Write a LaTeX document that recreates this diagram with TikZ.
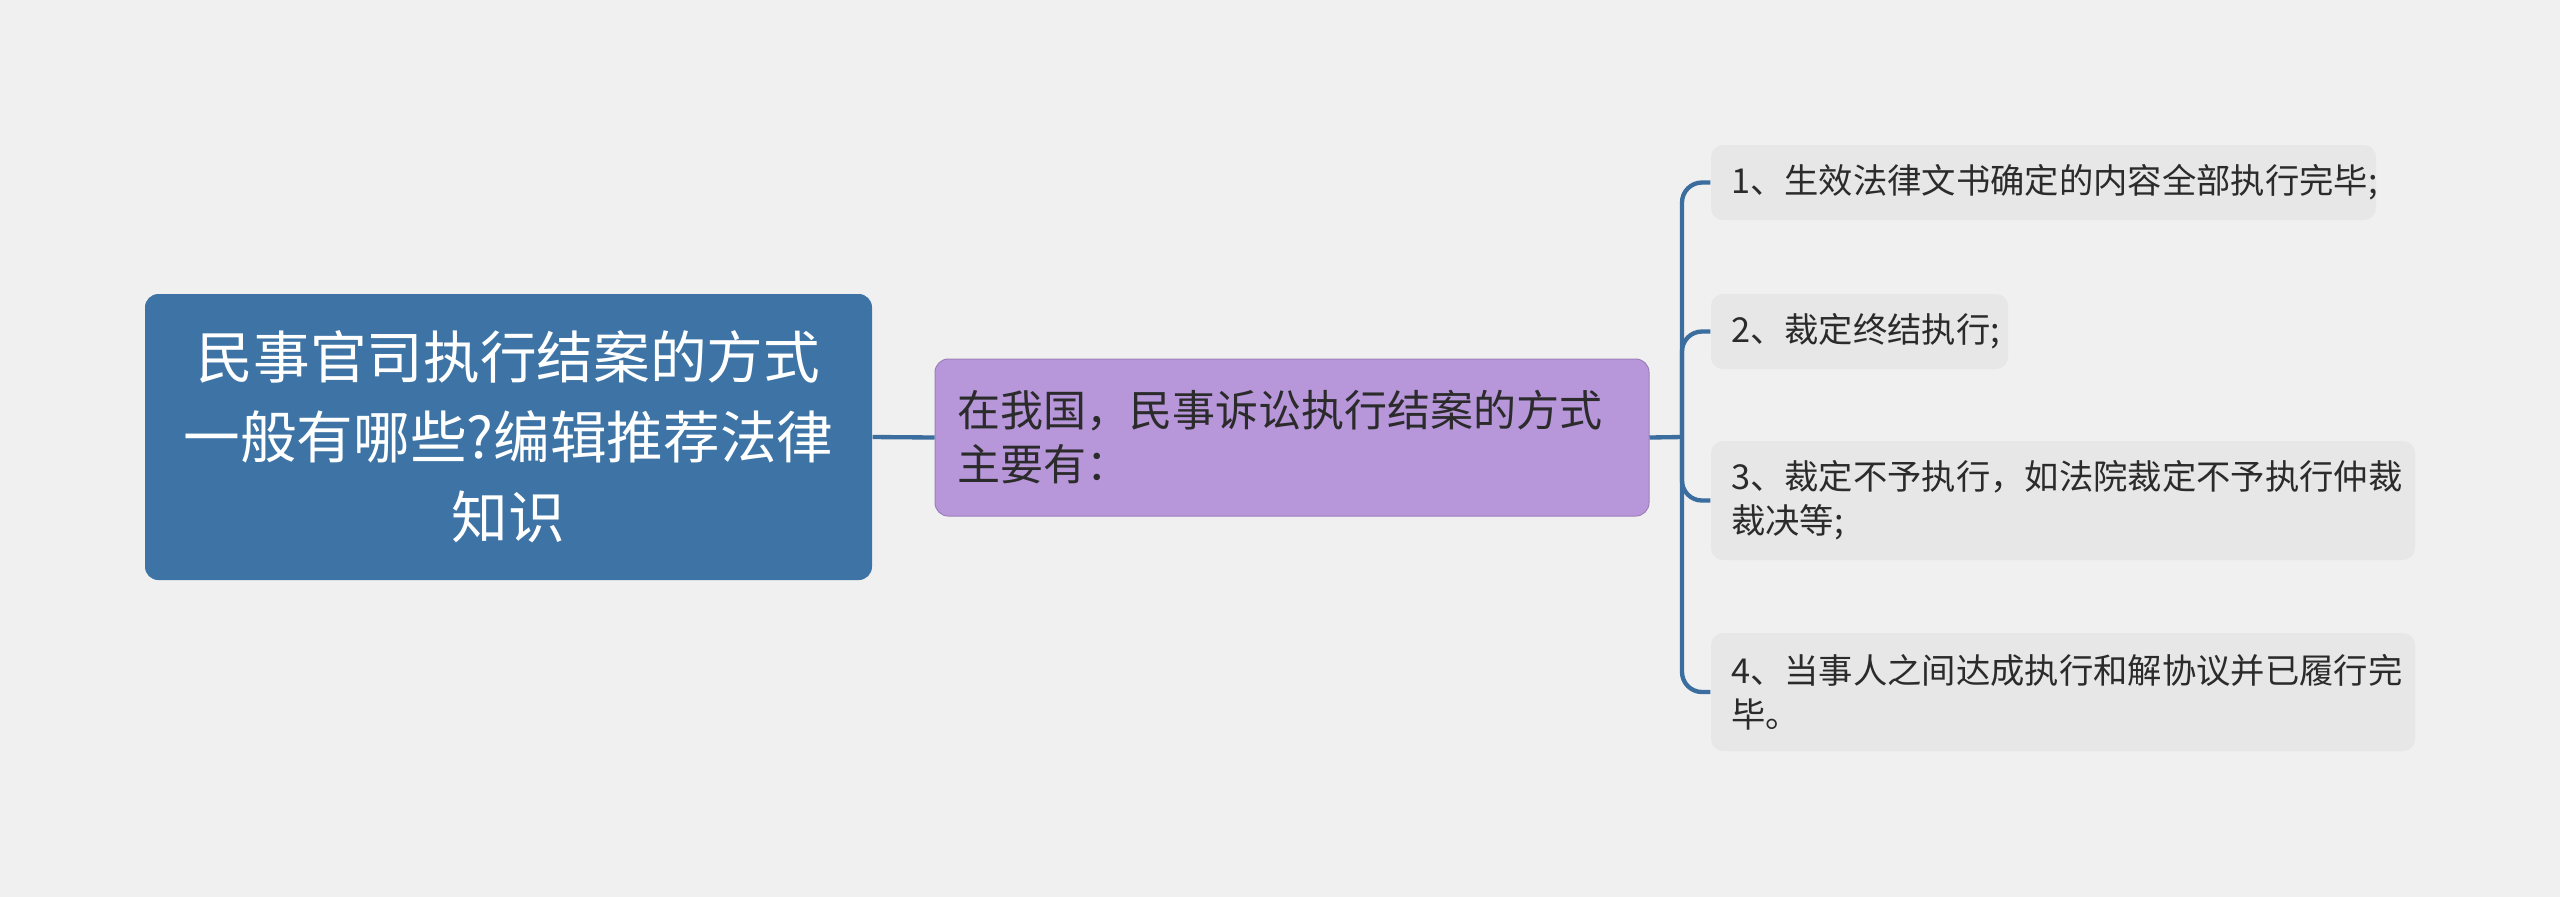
\documentclass[tikz,border=0pt]{standalone}
\usepackage{fontspec}
\newfontfamily\cjk{Noto Sans CJK SC}
\usetikzlibrary{positioning}
\definecolor{canvas}{HTML}{F0F0F0}
\definecolor{rootblue}{HTML}{3D74A5}
\definecolor{midpurple}{HTML}{B797DA}
\definecolor{leafgray}{HTML}{E7E7E7}
\definecolor{linkblue}{HTML}{3B6D9E}
\definecolor{inkdark}{HTML}{2B2B2B}

\begin{document}
\begin{tikzpicture}[x=0.3pt,y=-0.3pt,
  rootbox/.style={fill=rootblue,rounded corners=4pt,text=white,align=center,
    minimum width=218.1pt,minimum height=85.8pt,inner sep=0pt,
    font={\cjk\fontsize{17}{24}\selectfont}},
  midbox/.style={fill=midpurple,draw=midpurple!85!black,line width=0.3pt,rounded corners=4pt,
    text=inkdark,align=left,text width=201pt,inner xsep=6.6pt,inner ysep=0pt,
    minimum height=47.1pt,font={\cjk\fontsize{12.9}{16.2}\selectfont}},
  leafbox/.style={fill=leafgray,rounded corners=3.6pt,text=inkdark,align=left,
    inner xsep=6pt,inner ysep=0pt,font={\cjk\fontsize{10.3}{13.2}\selectfont}},
  link/.style={draw=linkblue,line width=1.3pt,rounded corners=6pt}]
  % Background
  \fill[canvas] (0,0) rectangle (2560,897);
  \useasboundingbox (0,0) rectangle (2560,897);

  % Root
  \node[rootbox] (root) at (508.5,437) {民事官司执行结案的方式\\一般有哪些?编辑推荐法律\\知识};

  % Middle
  \node[midbox] (mid) at (1292,437.5) {在我国，民事诉讼执行结案的方式\\主要有：};

  % Leaves
  \node[leafbox,text width=187.5pt,minimum height=22.5pt] (leaf1) at (2043.5,182.5) {1、生效法律文书确定的内容全部执行完毕;};
  \node[leafbox,text width=77.1pt,minimum height=22.5pt] (leaf2) at (1859.5,331.5) {2、裁定终结执行;};
  \node[leafbox,text width=199.2pt,minimum height=35.7pt] (leaf3) at (2063,500.5) {3、裁定不予执行，如法院裁定不予执行仲裁\\裁决等;};
  \node[leafbox,text width=199.2pt,minimum height=35.4pt] (leaf4) at (2063,692) {4、当事人之间达成执行和解协议并已履行完\\毕。};

  % Connectors
  \coordinate (fork) at (1682,437);
  \draw[link] (root.east) -- (mid.west);
  \draw[link] (mid.east) -- (fork);
  \foreach \n in {1,...,4}
    \draw[link] (fork) |- (leaf\n.west);
\end{tikzpicture}
\end{document}
